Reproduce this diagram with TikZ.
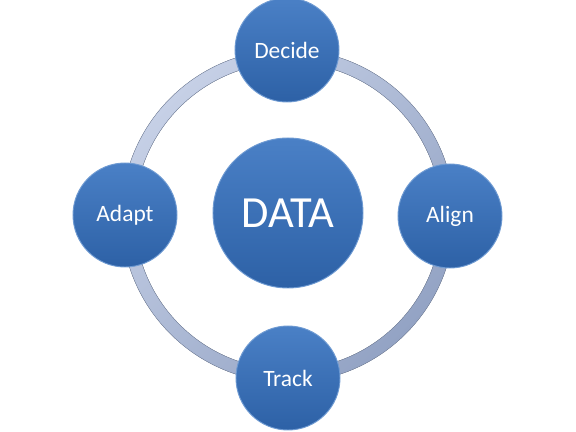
\documentclass[tikz,border=0pt]{standalone}
\usepackage{fontspec}
\setmainfont{Carlito}
\definecolor{bluetop}{HTML}{4A80C6}
\definecolor{bluebot}{HTML}{2D61A6}
\definecolor{bluerim}{HTML}{6E9AD2}
\definecolor{ringdark}{HTML}{93A3C4}
\definecolor{ringlight}{HTML}{C6D0E6}
\begin{document}
\begin{tikzpicture}[x=0.03cm, y=-0.03cm,
    bubble/.style={circle, top color=bluetop, bottom color=bluebot, draw=bluerim,
        line width=0.8pt, text=white, inner sep=0pt},
    step node/.style={bubble, minimum size=3.12cm, font=\fontsize{20}{22}\selectfont},
    hub/.style={bubble, minimum size=4.5cm, font=\fontsize{38}{40}\selectfont}]
    \useasboundingbox[fill=white] (0,0) rectangle (576,432);

    % ring behind the bubbles
    \coordinate (ring) at (288,216);
    \fill[even odd rule, top color=ringlight, bottom color=ringdark, shading angle=45,
        draw=ringdark!85!black, line width=0.3pt]
        (ring) circle [radius=4.995cm] (ring) circle [radius=4.605cm];

    \node[hub] (data) at (288,213) {DATA};
    \node[step node] (decide) at (287,50) {Decide};
    \node[step node] (align) at (450,216) {Align};
    \node[step node] (track) at (288,378) {Track};
    \node[step node] (adapt) at (125,215) {Adapt};
\end{tikzpicture}
\end{document}
